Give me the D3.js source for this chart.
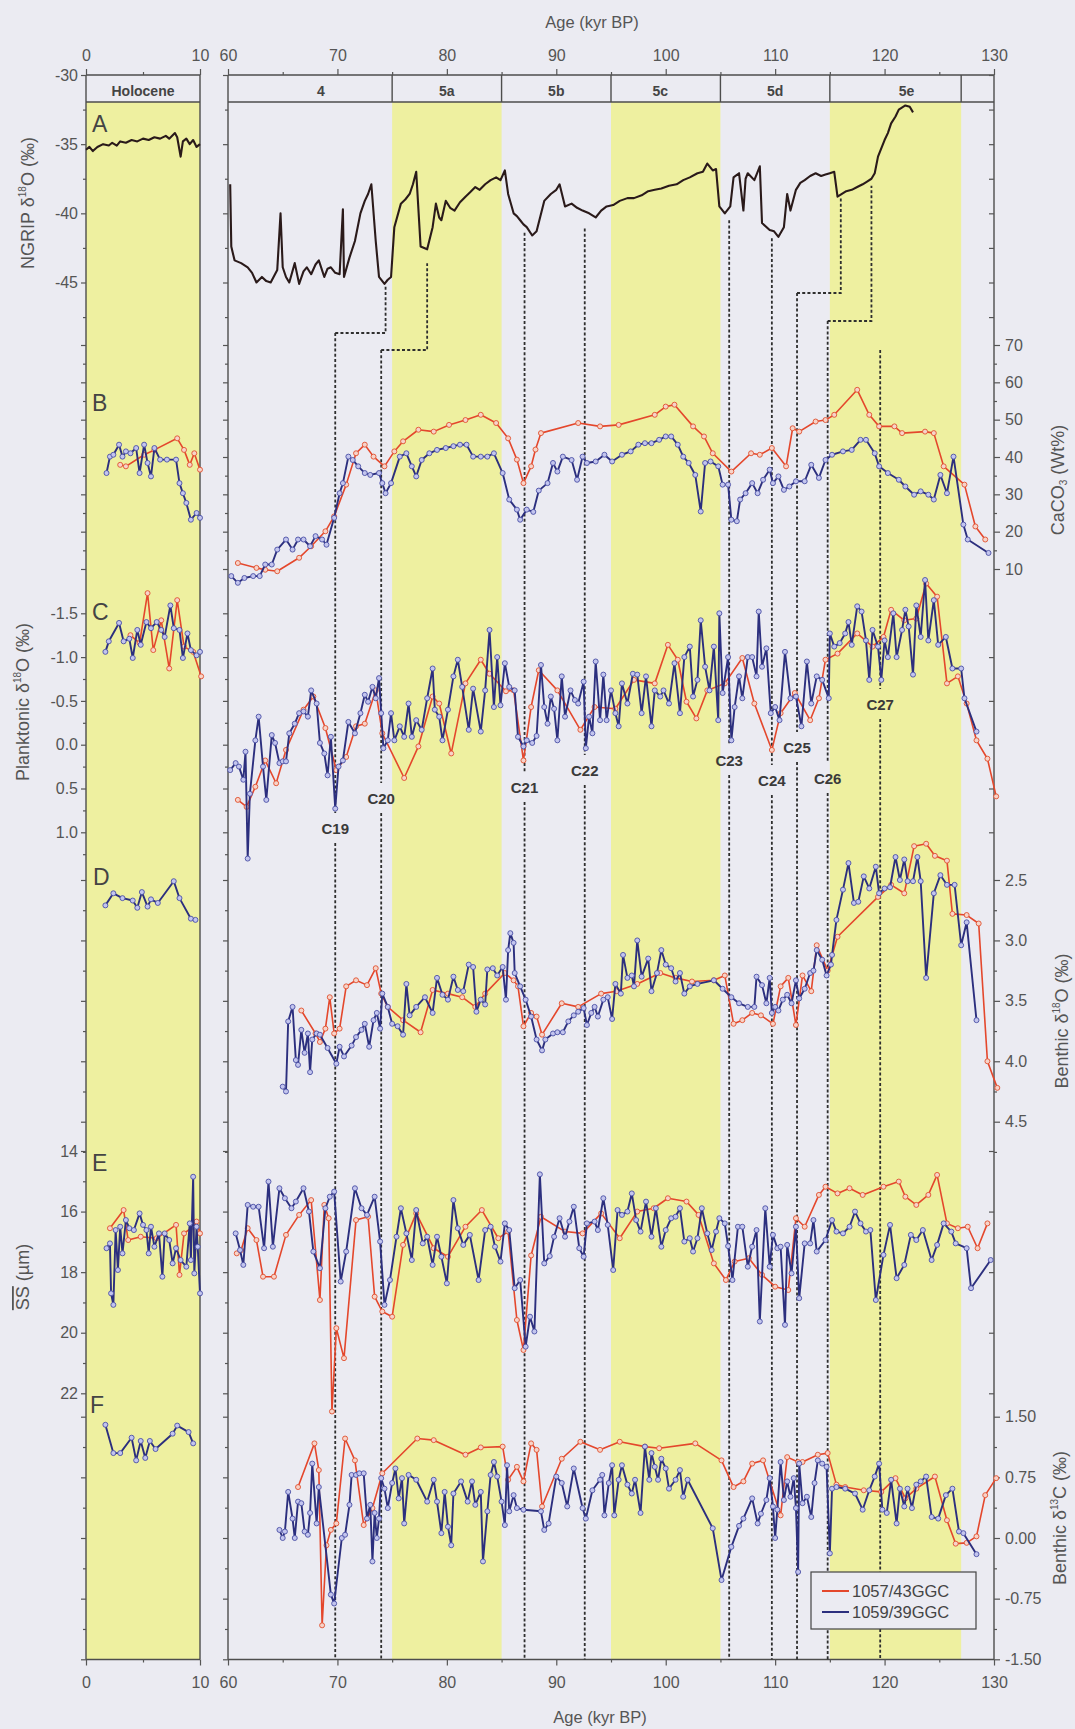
<!DOCTYPE html>
<html><head><meta charset="utf-8">
<script src="https://cdn.jsdelivr.net/npm/d3@7"></script>
<style>body{margin:0;background:#ececf3;} svg{display:block;font-family:"Liberation Sans",Arial,sans-serif;}</style>
</head><body><svg id="c" width="1075" height="1729"></svg>
<script>
// ---------------- DATA ----------------
const stageBounds = [60,75,85,95,105,115,127,130];
const stageLabels = ["4","5a","5b","5c","5d","5e",""];
const stageLabelAge = [68.5,80,90,99.5,110,122,128.5];
const yellowBands = [[75,85],[95,105],[115,127]];
const topTicks = [60,70,80,90,100,110,120,130];
const topMinor = [65,75,85,95,105,115,125];
const holTicks = [0,10];

const eventLabels = ["C19","C20","C21","C22","C23","C24","C25","C26","C27"];
const eventAge    = [69.8,74.0,87.1,92.6,105.8,109.7,112.0,114.8,119.6];
const ngripTieAge = [74.4,78.2,87.1,92.6,105.8,109.7,116.0,118.8,null];
const ngripTieVal = [-45.3,-43.6,-41.4,-41.1,-40.5,-41.8,-38.8,-38.0,null];

const ngripHol = [[0,-35.4],[0.3,-35.2],[0.6,-35.5],[1,-35.2],[1.5,-35.0],[2,-35.1],[2.3,-34.9],[2.7,-35.1],[3,-34.8],[3.5,-34.9],[4,-34.7],[4.5,-34.8],[5,-34.6],[5.5,-34.7],[6,-34.5],[6.5,-34.6],[7,-34.4],[7.3,-34.6],[7.8,-34.2],[8.0,-34.5],[8.3,-35.9],[8.5,-34.8],[8.8,-34.6],[9.1,-35.0],[9.4,-34.7],[9.7,-35.2],[10,-35.0]];
const ngripMain = [[60.2,-37.9],[60.3,-42.4],[60.6,-43.4],[61.2,-43.6],[61.8,-43.9],[62.2,-44.3],[62.6,-45.0],[63.1,-44.6],[63.5,-44.9],[63.9,-45.0],[64.5,-44.1],[64.8,-40.0],[65.0,-43.9],[65.3,-44.6],[65.6,-45.0],[66.1,-43.6],[66.5,-45.1],[66.9,-44.2],[67.2,-43.9],[67.6,-44.4],[68.0,-43.7],[68.3,-43.4],[68.8,-44.6],[69.1,-44.0],[69.4,-43.9],[69.8,-44.3],[70.2,-44.4],[70.5,-39.7],[70.6,-44.6],[71.1,-43.2],[71.6,-42.0],[72.1,-40.0],[72.5,-39.1],[72.8,-38.6],[73.1,-37.9],[73.5,-42.0],[73.8,-44.6],[74.3,-45.1],[74.6,-44.8],[74.9,-44.6],[75.2,-41.0],[75.8,-39.3],[76.2,-39.0],[76.6,-38.6],[76.9,-37.9],[77.2,-37.0],[77.6,-42.4],[78.2,-42.6],[78.7,-41.0],[79.0,-39.3],[79.3,-40.3],[79.5,-40.5],[79.9,-39.1],[80.3,-39.6],[80.7,-39.8],[81.2,-39.2],[81.7,-38.8],[82.1,-38.5],[82.6,-38.1],[83.0,-38.3],[83.5,-37.9],[84.0,-37.6],[84.5,-37.4],[84.9,-37.6],[85.3,-36.9],[85.6,-38.6],[86.1,-40.0],[86.4,-40.2],[86.7,-40.5],[87.0,-40.8],[87.3,-41.0],[87.8,-41.6],[88.2,-41.3],[88.9,-39.1],[89.5,-38.6],[90.0,-38.3],[90.3,-37.9],[90.8,-39.5],[91.4,-39.3],[91.9,-39.6],[92.4,-39.8],[93.0,-40.0],[93.6,-40.3],[94.1,-39.8],[94.6,-39.5],[95.2,-39.4],[95.8,-39.1],[96.5,-38.9],[97.1,-38.9],[97.8,-38.7],[98.4,-38.4],[99.0,-38.3],[99.6,-38.2],[100.3,-38.0],[101.0,-37.9],[101.6,-37.6],[102.2,-37.4],[102.9,-37.1],[103.4,-37.0],[103.8,-36.4],[104.3,-36.9],[104.6,-36.8],[104.9,-39.5],[105.4,-40.0],[105.9,-39.5],[106.2,-37.4],[106.7,-37.1],[107.1,-39.8],[107.3,-37.5],[107.5,-37.1],[108.1,-37.6],[108.6,-36.6],[108.8,-40.7],[109.5,-41.2],[109.9,-41.3],[110.3,-41.7],[110.8,-41.0],[111.1,-38.6],[111.4,-39.8],[111.9,-38.3],[112.3,-37.8],[112.7,-37.6],[113.2,-37.3],[113.7,-37.1],[114.2,-37.3],[114.6,-37.2],[115.0,-37.1],[115.4,-37.0],[115.7,-38.8],[116.1,-38.6],[116.5,-38.4],[117.0,-38.3],[117.5,-38.1],[118.0,-37.9],[118.4,-37.7],[118.8,-37.5],[119.1,-37.1],[119.4,-35.9],[120.0,-34.7],[120.3,-34.2],[120.6,-33.5],[121.0,-33.0],[121.3,-32.5],[121.9,-32.2],[122.3,-32.3],[122.6,-32.7]];

const caco3BlueHol = [[1.8,35.7],[2.1,40.1],[2.4,40.6],[2.9,43.3],[3.2,40.1],[3.5,41.5],[3.9,41.0],[4.4,42.4],[4.7,35.7],[5.1,43.3],[5.4,38.4],[5.7,34.8],[6.0,42.4],[6.5,39.3],[7.1,39.3],[7.9,39.3],[8.2,33.0],[8.5,30.3],[8.8,27.7],[9.2,23.2],[9.7,25.0],[10.0,23.7]];
const caco3RedHol = [[3.0,37.9],[3.5,37.5],[5.1,40.6],[6.0,41.9],[8.0,45.0],[8.6,41.9],[9.1,37.9],[9.5,41.0],[10.0,36.6]];
const caco3Red = [[60.9,11.6],[62.6,10.3],[63.4,9.8],[64.5,9.4],[66.5,13.0],[67.6,16.1],[68.9,20.1],[69.7,24.1],[70.8,32.6],[71.7,41.0],[72.5,43.3],[73.3,40.1],[74.3,37.5],[75.2,41.5],[76.0,44.2],[77.4,47.3],[78.8,46.8],[80.2,48.6],[81.7,49.9],[83.1,51.3],[84.5,49.1],[85.6,45.0],[86.4,39.3],[87.0,33.0],[87.7,37.5],[88.1,42.0],[88.6,46.4],[92.0,49.1],[94.0,48.2],[95.7,48.6],[99.0,51.3],[100.0,53.5],[100.8,54.0],[102.5,48.2],[103.5,45.5],[104.3,41.0],[106.0,36.1],[107.8,41.0],[108.6,40.6],[109.7,42.4],[111.0,37.5],[111.6,47.7],[112.2,46.8],[113.7,49.5],[114.6,49.9],[115.4,51.3],[117.5,58.0],[118.6,51.3],[119.5,48.2],[120.9,48.2],[121.6,46.4],[123.7,46.8],[124.5,46.4],[125.4,37.5],[127.3,32.6],[128.3,21.4],[129.2,17.9]];
const caco3Blue = [[60.3,8.1],[60.9,6.3],[61.5,7.6],[62.3,8.1],[62.9,8.1],[63.4,11.2],[64.0,11.2],[64.5,15.2],[65.3,17.9],[65.9,15.2],[66.4,17.9],[66.9,17.9],[67.5,16.1],[68.0,18.8],[68.6,17.9],[69.0,16.5],[69.7,23.7],[70.2,30.3],[70.5,33.0],[71.0,40.1],[71.4,39.2],[71.9,37.5],[72.5,35.7],[73.0,35.2],[73.8,35.7],[74.1,33.0],[74.4,30.3],[74.9,33.0],[75.7,40.1],[76.3,41.0],[76.8,37.5],[77.2,34.8],[77.7,39.2],[78.4,41.0],[79.1,41.9],[79.9,42.4],[80.6,42.9],[81.2,43.3],[81.8,43.3],[82.4,40.1],[83.1,40.1],[83.7,40.1],[84.3,41.0],[85.1,35.7],[85.7,28.6],[86.4,25.9],[86.7,23.2],[87.3,25.9],[87.9,25.3],[88.4,31.0],[89.2,33.0],[89.7,38.4],[90.1,36.1],[90.6,40.1],[91.4,39.2],[91.9,33.9],[92.4,40.1],[92.8,38.4],[93.6,38.8],[94.4,40.6],[95.1,38.8],[96.0,40.6],[96.8,41.5],[97.5,43.3],[98.1,43.7],[98.7,43.7],[99.4,44.6],[100.0,45.5],[100.5,45.5],[101.1,43.3],[101.6,40.1],[102.1,38.4],[102.7,35.2],[103.2,25.4],[103.6,38.4],[104.1,38.8],[104.8,37.5],[105.2,32.6],[105.7,32.6],[106.0,23.2],[106.5,22.8],[106.8,28.6],[107.3,30.3],[107.9,33.0],[108.4,30.3],[108.9,33.9],[109.5,36.6],[109.8,33.0],[110.3,34.8],[110.8,31.2],[111.3,32.1],[111.9,33.5],[112.7,33.5],[113.3,37.9],[114.0,34.4],[114.6,39.2],[115.2,40.6],[116.2,41.5],[117.0,41.9],[117.8,44.6],[118.3,44.6],[119.1,41.0],[119.5,37.5],[120.3,35.7],[121.3,33.9],[121.9,32.1],[122.7,29.9],[123.3,30.8],[124.0,29.9],[124.5,28.6],[125.1,35.2],[125.7,30.3],[126.3,40.1],[127.2,21.9],[127.6,17.9],[129.5,14.3]];

const plankBlueHol = [[1.7,-1.06],[2.0,-1.18],[2.9,-1.39],[3.3,-1.18],[3.8,-1.21],[4.1,-0.99],[4.5,-1.31],[4.8,-1.14],[5.3,-1.40],[5.7,-1.33],[6.2,-1.40],[6.6,-1.31],[6.9,-1.23],[7.4,-1.59],[7.7,-1.33],[8.2,-1.31],[8.5,-0.99],[8.9,-1.27],[9.2,-1.08],[9.7,-1.02],[10.0,-1.06]];
const plankRedHol = [[3.9,-1.25],[4.7,-1.16],[5.4,-1.73],[5.9,-1.08],[6.6,-1.42],[7.3,-0.87],[8.0,-1.65],[8.6,-1.12],[9.4,-1.06],[10.1,-0.78]];
const plankBlue = [[60.2,0.29],[60.7,0.21],[61.0,0.25],[61.4,0.40],[61.6,0.08],[61.8,1.30],[62.0,0.56],[62.5,-0.05],[62.8,-0.32],[63.2,0.25],[63.5,0.63],[64.0,-0.11],[64.3,-0.02],[64.7,0.21],[65.0,0.19],[65.3,0.19],[65.6,-0.13],[66.1,-0.24],[66.5,-0.36],[66.9,-0.38],[67.3,-0.32],[67.6,-0.62],[68.1,-0.47],[68.4,-0.02],[68.8,0.10],[69.1,0.35],[69.4,-0.09],[69.8,0.73],[70.1,0.25],[70.5,0.18],[71.0,-0.26],[71.6,-0.13],[72.1,-0.36],[72.5,-0.57],[72.8,-0.49],[73.2,-0.66],[73.5,-0.53],[73.8,-0.76],[74.0,-0.36],[74.2,0.04],[74.6,-0.05],[74.9,-0.36],[75.2,-0.05],[75.7,-0.21],[76.1,-0.09],[76.5,-0.47],[76.8,-0.09],[77.2,-0.28],[77.7,-0.17],[78.2,-0.53],[78.7,-0.87],[78.9,-0.40],[79.3,-0.32],[79.6,-0.05],[80.1,-0.40],[80.6,-0.78],[81.0,-0.97],[81.4,-0.66],[82.0,-0.17],[82.4,-0.64],[83.1,-0.15],[83.5,-0.62],[83.9,-1.31],[84.3,-0.43],[84.6,-1.00],[84.9,-0.45],[85.3,-0.93],[85.7,-0.66],[86.2,-0.62],[86.5,-0.09],[87.0,0.02],[87.3,-0.05],[87.8,-0.02],[88.2,-0.10],[88.6,-0.91],[88.9,-0.43],[89.2,-0.24],[89.5,-0.55],[89.8,-0.41],[90.1,-0.05],[90.5,-0.78],[90.8,-0.32],[91.3,-0.62],[91.7,-0.51],[92.0,-0.47],[92.5,-0.72],[92.7,0.04],[93.0,-0.32],[93.3,-0.13],[93.6,-0.95],[94.0,-0.28],[94.3,-0.80],[94.6,-0.28],[95.0,-0.62],[95.4,-0.36],[95.7,-0.21],[96.0,-0.70],[96.5,-0.47],[97.0,-0.81],[97.4,-0.80],[97.8,-0.36],[98.2,-0.78],[98.7,-0.21],[99.0,-0.62],[99.5,-0.55],[99.8,-0.62],[100.3,-0.47],[100.8,-0.93],[101.3,-0.36],[101.7,-1.00],[102.2,-1.12],[102.5,-0.55],[102.9,-0.74],[103.2,-1.42],[103.6,-0.89],[104.0,-0.62],[104.4,-1.12],[104.8,-0.28],[104.9,-1.50],[105.2,-0.59],[105.7,-1.00],[106.0,-0.05],[106.3,-0.43],[106.7,-0.78],[107.0,-0.53],[107.5,-1.00],[107.9,-1.00],[108.3,-0.78],[108.5,-1.52],[108.8,-0.89],[109.2,-1.10],[109.6,-0.36],[110.0,-0.43],[110.4,-0.28],[110.9,-1.06],[111.4,-0.53],[111.9,-0.55],[112.4,-0.21],[112.9,-0.95],[113.3,-0.47],[113.8,-0.78],[114.3,-0.74],[114.9,-0.53],[115.0,-1.27],[115.4,-1.12],[115.9,-1.16],[116.4,-1.27],[116.7,-1.40],[117.0,-1.14],[117.5,-1.58],[117.9,-1.52],[118.3,-1.19],[118.6,-0.74],[118.9,-1.31],[119.4,-1.12],[119.7,-0.74],[120.0,-1.19],[120.3,-1.00],[120.8,-1.50],[121.1,-1.00],[121.6,-1.31],[121.9,-1.54],[122.2,-1.35],[122.6,-0.80],[122.9,-1.59],[123.3,-1.23],[123.7,-1.88],[124.0,-1.19],[124.5,-1.65],[124.9,-1.14],[125.6,-1.23],[126.2,-0.87],[127.0,-0.87],[127.3,-0.53],[128.4,-0.15]];
const plankRed = [[60.9,0.63],[61.7,0.71],[62.5,0.48],[63.4,0.18],[64.4,0.44],[65.3,0.06],[66.9,-0.40],[67.8,-0.55],[68.9,-0.19],[69.9,0.29],[70.8,0.14],[71.7,-0.21],[72.5,-0.24],[73.5,-0.62],[74.1,-0.13],[76.1,0.38],[77.4,0.02],[78.7,-0.55],[79.3,-0.47],[80.4,0.10],[81.7,-0.70],[83.1,-0.97],[83.9,-0.81],[85.4,-0.61],[86.1,-0.62],[87.0,0.18],[87.7,-0.43],[88.4,-0.85],[90.1,-0.62],[92.2,-0.17],[93.5,-0.43],[95.4,-0.41],[97.1,-0.74],[99.0,-0.70],[100.2,-1.14],[101.1,-0.97],[101.9,-0.49],[102.8,-0.30],[103.8,-0.62],[105.4,-0.70],[107.0,-0.99],[108.1,-0.47],[109.7,0.06],[110.5,-0.36],[111.8,-0.59],[113.2,-0.28],[114.0,-0.53],[114.6,-0.97],[115.7,-1.04],[117.5,-1.27],[118.9,-1.12],[119.9,-1.23],[120.6,-1.54],[121.8,-1.42],[122.9,-1.44],[123.8,-1.84],[124.8,-1.69],[125.7,-0.70],[126.7,-0.78],[127.5,-0.47],[128.4,-0.05],[129.4,0.16],[130.2,0.59]];

const benthOBlueHol = [[1.7,2.71],[2.4,2.61],[3.2,2.65],[4.1,2.67],[4.5,2.73],[4.9,2.60],[5.4,2.72],[5.7,2.66],[6.3,2.69],[7.7,2.51],[8.2,2.65],[9.2,2.82],[9.6,2.83]];
const benthOBlue = [[65.0,4.21],[65.3,4.25],[65.5,3.67],[65.9,3.55],[66.2,3.99],[66.4,4.03],[66.7,3.74],[67.0,3.93],[67.3,3.77],[67.5,4.09],[67.7,3.82],[68.1,3.77],[68.4,3.78],[69.1,3.89],[69.9,4.02],[70.2,3.88],[70.6,3.96],[71.3,3.87],[71.7,3.80],[72.2,3.74],[72.5,3.69],[72.9,3.88],[73.3,3.66],[73.6,3.60],[73.9,3.73],[74.1,3.44],[74.6,3.55],[75.0,3.69],[75.5,3.71],[76.0,3.78],[76.3,3.36],[76.6,3.62],[77.2,3.55],[78.0,3.47],[78.7,3.60],[79.1,3.31],[79.6,3.45],[80.1,3.49],[80.6,3.30],[81.0,3.41],[81.5,3.42],[82.0,3.20],[82.4,3.22],[82.7,3.59],[83.1,3.49],[83.5,3.53],[83.7,3.24],[84.2,3.23],[84.6,3.29],[85.1,3.22],[85.4,3.49],[85.6,3.08],[85.8,2.94],[86.1,3.02],[86.2,3.27],[86.7,3.38],[87.2,3.49],[87.7,3.63],[88.2,3.82],[88.7,3.91],[89.0,3.82],[89.7,3.77],[90.1,3.76],[90.6,3.76],[91.1,3.67],[91.6,3.62],[92.0,3.59],[92.5,3.56],[92.8,3.70],[93.2,3.60],[93.5,3.55],[93.8,3.63],[94.3,3.49],[94.7,3.47],[95.1,3.65],[95.4,3.36],[95.9,3.44],[96.1,3.12],[96.5,3.31],[96.9,3.29],[97.1,3.38],[97.4,3.00],[97.8,3.30],[98.4,3.15],[98.7,3.42],[99.2,3.27],[99.6,3.08],[100.0,3.20],[100.5,3.23],[100.9,3.34],[101.3,3.27],[101.7,3.44],[102.2,3.38],[102.9,3.36],[104.4,3.33],[105.2,3.40],[106.0,3.47],[106.7,3.52],[107.5,3.55],[108.1,3.55],[108.3,3.30],[108.8,3.37],[109.2,3.52],[109.5,3.31],[109.7,3.60],[110.0,3.55],[110.3,3.58],[110.7,3.49],[111.1,3.45],[111.5,3.52],[111.9,3.33],[112.2,3.48],[112.7,3.40],[113.2,3.27],[113.5,3.25],[113.8,3.08],[114.3,3.16],[114.7,3.29],[115.1,3.20],[115.2,3.12],[115.6,2.83],[116.2,2.58],[116.7,2.36],[117.2,2.69],[117.6,2.68],[118.1,2.47],[118.6,2.57],[119.2,2.39],[119.5,2.61],[120.0,2.57],[120.5,2.56],[121.0,2.31],[121.4,2.50],[121.8,2.33],[122.1,2.51],[122.6,2.51],[123.0,2.31],[123.3,2.51],[123.8,3.31],[124.5,2.61],[125.1,2.46],[125.7,2.54],[126.4,2.54],[127.0,3.04],[127.5,2.85],[128.4,3.66]];
const benthORed = [[66.7,3.58],[68.0,3.77],[68.4,3.84],[68.9,3.73],[69.3,3.47],[69.7,3.77],[70.2,3.73],[70.8,3.38],[71.7,3.33],[72.7,3.37],[73.5,3.23],[74.0,3.44],[74.6,3.55],[76.0,3.66],[77.6,3.76],[78.7,3.41],[80.1,3.44],[81.4,3.47],[82.6,3.55],[83.5,3.44],[85.3,3.27],[86.1,3.33],[86.5,3.38],[87.0,3.71],[87.7,3.60],[88.2,3.63],[88.7,3.78],[90.5,3.52],[92.0,3.55],[94.1,3.44],[95.5,3.42],[97.4,3.36],[99.5,3.27],[100.9,3.31],[102.4,3.34],[104.4,3.33],[105.4,3.29],[106.2,3.69],[107.0,3.66],[107.9,3.60],[108.7,3.62],[109.8,3.69],[110.5,3.38],[111.2,3.31],[111.9,3.70],[112.5,3.29],[113.3,3.42],[113.8,3.04],[114.8,3.25],[115.7,2.97],[119.4,2.64],[120.6,2.54],[121.8,2.61],[122.7,2.22],[123.8,2.20],[124.6,2.30],[125.7,2.34],[126.2,2.78],[127.5,2.79],[128.6,2.86],[129.4,4.00],[130.3,4.22]];

const ssBlueHol = [[1.8,17.21],[2.1,17.05],[2.2,18.70],[2.4,19.08],[2.6,16.61],[2.8,17.93],[3.0,16.50],[3.2,17.38],[3.5,16.28],[3.8,16.55],[4.2,16.61],[4.7,16.06],[5.0,16.44],[5.3,16.61],[5.5,17.38],[5.7,16.50],[6.0,17.16],[6.4,16.72],[6.7,18.15],[6.9,16.72],[7.3,16.94],[7.6,17.71],[7.9,17.21],[8.3,17.60],[8.8,17.82],[9.1,16.39],[9.2,17.60],[9.4,14.85],[9.5,18.04],[9.7,16.50],[9.8,17.16],[10.0,18.70]];
const ssRedHol = [[2.1,16.55],[3.3,15.95],[3.7,16.94],[4.8,16.83],[6.2,16.88],[7.9,16.44],[8.2,18.09],[8.6,16.72],[9.4,16.50],[9.7,16.33],[10.0,16.72]];
const ssBlue = [[60.7,16.72],[61.1,17.27],[61.4,17.76],[61.8,15.78],[62.3,15.84],[62.8,15.84],[63.3,17.21],[63.7,15.01],[64.1,17.16],[64.7,15.23],[65.2,15.56],[65.8,15.89],[66.2,15.67],[66.9,15.23],[67.4,16.00],[67.8,17.32],[68.4,17.87],[68.9,15.89],[69.3,15.51],[69.7,15.34],[70.3,18.31],[70.8,17.32],[71.6,15.23],[72.2,15.89],[72.7,16.11],[73.4,15.51],[73.9,16.99],[74.3,19.08],[74.8,18.26],[75.4,16.83],[75.8,15.89],[76.3,16.72],[76.8,17.60],[77.2,15.95],[77.8,17.05],[78.2,16.83],[78.7,17.76],[79.1,16.83],[79.5,17.49],[80.0,18.37],[80.6,15.62],[81.0,16.55],[81.5,17.10],[82.1,16.77],[82.9,18.26],[83.5,16.61],[84.0,16.50],[84.4,17.16],[84.9,17.65],[85.3,16.39],[85.7,16.61],[86.2,18.53],[86.7,18.26],[87.2,20.46],[87.6,19.47],[88.0,19.96],[88.5,14.77],[88.9,17.71],[89.4,17.47],[89.8,16.83],[90.3,16.22],[90.8,16.83],[91.2,16.33],[91.6,15.84],[92.1,17.21],[92.5,17.49],[92.8,16.39],[93.5,16.33],[93.8,16.61],[94.3,15.56],[94.7,16.44],[95.2,17.93],[95.6,15.95],[96.0,16.11],[96.5,16.00],[96.9,15.40],[97.3,16.28],[97.7,16.66],[98.2,15.67],[98.7,16.83],[99.1,15.89],[99.6,17.16],[100.0,16.61],[100.5,16.22],[100.9,16.17],[101.3,15.89],[101.7,16.99],[102.2,16.88],[102.5,17.32],[102.9,16.88],[103.3,15.89],[103.8,16.72],[104.2,17.27],[104.6,16.66],[104.9,16.22],[105.4,16.39],[105.7,17.14],[106.1,18.26],[106.6,16.50],[107.0,16.50],[107.5,17.82],[107.9,17.16],[108.3,16.61],[108.6,19.63],[109.1,15.89],[109.5,17.82],[109.8,16.77],[110.2,17.21],[110.5,17.16],[110.9,19.74],[111.1,17.10],[111.5,18.04],[111.9,16.50],[112.2,18.86],[112.7,17.05],[113.2,17.05],[113.5,16.28],[113.8,17.32],[114.6,16.94],[115.2,16.28],[115.6,16.66],[116.2,16.72],[116.8,16.50],[117.3,16.00],[117.8,16.39],[118.3,16.66],[118.7,16.61],[119.2,18.92],[119.9,17.43],[120.5,16.44],[121.1,18.20],[121.8,17.76],[122.4,16.77],[122.9,16.94],[123.5,16.61],[124.3,17.60],[124.8,17.10],[125.4,16.39],[126.1,16.66],[126.5,17.05],[127.5,17.21],[127.9,18.53],[129.7,17.60]];
const ssRed = [[60.8,17.38],[61.2,17.27],[61.8,16.55],[62.6,16.94],[63.2,18.15],[64.2,18.15],[65.3,16.77],[66.5,16.11],[67.6,15.62],[68.4,18.92],[68.8,15.78],[69.2,16.22],[69.5,22.60],[69.9,19.85],[70.6,20.84],[71.7,16.28],[72.8,16.17],[73.4,18.81],[74.1,19.30],[75.0,19.47],[76.0,17.10],[77.2,16.06],[78.8,17.21],[80.1,17.49],[81.7,16.50],[83.2,15.95],[84.7,16.88],[85.6,16.66],[86.4,19.58],[87.0,20.57],[87.7,17.45],[88.6,16.17],[90.8,16.66],[92.4,16.72],[94.1,16.06],[95.8,16.88],[97.4,16.00],[98.9,15.89],[100.2,15.56],[101.9,15.67],[103.0,16.11],[104.4,17.71],[105.5,18.26],[106.3,17.65],[107.6,17.54],[108.8,18.09],[110.0,18.48],[111.2,18.59],[111.9,16.22],[112.7,16.50],[114.0,15.45],[114.6,15.18],[115.7,15.40],[116.8,15.23],[118.0,15.45],[119.9,15.18],[121.3,15.01],[121.9,15.51],[122.9,15.78],[124.0,15.45],[124.8,14.79],[125.7,16.39],[126.7,16.55],[127.6,16.50],[128.5,17.21],[129.4,16.39]];

const benthCBlueHol = [[1.7,1.40],[2.4,1.05],[3.0,1.05],[4.0,1.24],[4.4,0.96],[4.8,1.20],[5.2,0.99],[5.6,1.20],[6.1,1.10],[7.6,1.29],[8.0,1.39],[9.0,1.31],[9.4,1.17]];
const benthCBlue = [[64.7,0.10],[65.0,0.00],[65.2,0.08],[65.5,0.57],[65.9,0.24],[66.1,0.00],[66.4,0.45],[66.7,0.43],[67.0,0.08],[67.3,0.04],[67.5,0.31],[67.7,0.92],[68.1,0.18],[68.3,0.63],[69.4,-0.70],[69.7,-0.81],[70.4,0.00],[70.7,0.04],[71.1,0.41],[71.3,0.78],[71.7,0.78],[72.0,0.80],[72.4,0.80],[72.7,0.24],[73.0,0.41],[73.2,-0.29],[73.4,0.31],[73.6,0.00],[73.8,0.24],[74.0,0.74],[74.3,0.61],[74.6,0.37],[75.0,0.68],[75.3,0.86],[75.6,0.49],[75.9,0.74],[76.1,0.18],[76.5,0.78],[77.2,0.72],[78.2,0.45],[78.8,0.72],[79.1,0.45],[79.5,0.06],[79.8,0.57],[80.1,0.14],[80.4,-0.09],[80.6,0.55],[81.3,0.70],[81.9,0.45],[82.3,0.70],[82.6,0.41],[83.1,0.57],[83.3,-0.29],[83.7,0.33],[84.0,0.78],[84.3,0.94],[84.6,0.76],[85.0,0.45],[85.3,0.16],[85.5,0.90],[85.7,0.33],[86.1,0.53],[86.4,0.37],[87.0,0.35],[88.6,0.33],[88.9,0.10],[89.3,0.18],[90.0,0.76],[90.5,0.68],[91.0,0.39],[91.6,0.86],[92.4,0.37],[92.7,0.24],[93.3,0.59],[94.0,0.72],[94.2,0.78],[94.4,0.28],[94.8,0.68],[95.1,0.90],[95.3,0.28],[95.7,0.72],[96.0,0.90],[96.5,0.66],[96.9,0.55],[97.2,0.72],[97.7,0.31],[98.1,1.13],[98.5,0.72],[98.7,1.05],[99.0,0.88],[99.3,0.72],[99.6,0.98],[100.0,0.86],[100.3,0.61],[100.9,0.72],[101.3,0.84],[101.6,0.51],[102.0,0.72],[104.3,0.12],[105.1,-0.52],[106.0,-0.11],[106.7,0.15],[107.1,0.24],[107.9,0.49],[108.4,0.18],[108.7,0.30],[109.2,0.47],[109.5,0.74],[109.8,0.39],[110.0,0.00],[110.2,0.35],[110.5,0.94],[110.8,0.47],[111.1,0.70],[111.4,0.51],[111.7,0.74],[111.9,0.37],[112.1,-0.42],[112.2,0.92],[112.5,0.43],[112.9,0.51],[113.3,0.26],[113.6,0.68],[113.9,0.96],[114.3,0.92],[114.7,0.88],[115.0,-0.19],[115.2,0.61],[115.6,0.63],[116.4,0.61],[117.3,0.55],[118.0,0.35],[118.6,0.59],[119.1,0.76],[119.5,0.92],[119.8,0.35],[120.2,0.31],[120.6,0.72],[121.1,0.18],[121.4,0.61],[121.8,0.39],[122.1,0.61],[122.5,0.37],[122.9,0.66],[123.3,0.70],[123.8,0.76],[124.3,0.26],[124.9,0.24],[125.6,0.53],[126.2,0.61],[126.8,0.08],[127.2,0.06],[128.4,-0.20]];
const benthCRed = [[66.4,0.63],[67.9,1.17],[68.3,0.84],[68.6,-1.08],[69.0,-0.09],[69.4,0.10],[69.9,0.18],[70.7,1.23],[71.6,0.96],[72.4,0.16],[73.2,0.37],[74.1,0.80],[77.3,1.23],[78.8,1.21],[81.7,1.03],[83.1,1.12],[85.1,1.13],[85.6,0.72],[86.4,0.88],[87.0,0.70],[87.7,1.17],[88.2,1.09],[88.7,0.39],[90.5,0.98],[92.2,1.19],[94.0,1.09],[95.8,1.19],[98.1,1.13],[99.4,1.11],[102.7,1.17],[105.1,0.96],[106.2,0.63],[107.1,0.70],[107.9,0.92],[108.9,0.96],[110.5,0.28],[111.1,1.00],[112.1,0.94],[112.5,0.94],[113.9,1.03],[114.8,1.05],[115.6,0.66],[116.4,0.63],[118.1,0.59],[119.7,0.57],[121.0,0.74],[121.9,0.49],[122.9,0.61],[124.6,0.76],[125.7,0.22],[126.5,-0.07],[127.5,-0.06],[128.4,0.02],[129.2,0.53],[130.2,0.74]];

const legendNames = ["1057/43GGC","1059/39GGC"];

// ---------------- LAYOUT ----------------
const svg = d3.select("#c");
const TOP = 75, BAND = 102, BOT = 1659.5;
const BG = "#ebebf2", YEL = "#eef0a0", INK = "#4a4a4a", RED = "#e4472c", BLUE = "#2c2f7e";
const X  = d3.scaleLinear().domain([60,130]).range([228,994]);
const XH = d3.scaleLinear().domain([0,10]).range([86,200]);
const yA = d3.scaleLinear().domain([-30,-45]).range([75,282.5]);
const yB = d3.scaleLinear().domain([70,10]).range([345,569]);
const yC = d3.scaleLinear().domain([-1.5,1.0]).range([613.3,832.3]);
const yD = d3.scaleLinear().domain([2.5,4.5]).range([880,1121.7]);
const yE = d3.scaleLinear().domain([14,22]).range([1151,1393.3]);
const yF = d3.scaleLinear().domain([1.5,-1.5]).range([1416.7,1659.3]);

svg.append("rect").attr("width",1075).attr("height",1729).attr("fill",BG);

// yellow
svg.append("rect").attr("x",XH(0)).attr("y",BAND).attr("width",XH(10)-XH(0)).attr("height",BOT-BAND).attr("fill",YEL);
svg.selectAll(null).data(yellowBands).join("rect")
  .attr("x",d=>X(d[0])).attr("y",BAND).attr("width",d=>X(d[1])-X(d[0])).attr("height",BOT-BAND).attr("fill",YEL);

// stage header and frames
const fr = svg.append("g").attr("stroke","#4d4d4d").attr("stroke-width",1.4).attr("fill","none");
[[XH(0),XH(10)],[X(60),X(130)]].forEach(([a,b])=>{
  fr.append("line").attr("x1",a).attr("x2",b).attr("y1",TOP).attr("y2",TOP);
  fr.append("line").attr("x1",a).attr("x2",b).attr("y1",BAND).attr("y2",BAND);
  fr.append("line").attr("x1",a).attr("x2",b).attr("y1",BOT).attr("y2",BOT);
  fr.append("line").attr("x1",a).attr("x2",a).attr("y1",TOP).attr("y2",BOT);
  fr.append("line").attr("x1",b).attr("x2",b).attr("y1",TOP).attr("y2",BOT);
});
stageBounds.slice(1,-1).forEach(s=>fr.append("line").attr("x1",X(s)).attr("x2",X(s)).attr("y1",TOP).attr("y2",BAND));
const stg = svg.append("g").attr("font-size",14).attr("font-weight","bold").attr("fill","#444").attr("text-anchor","middle");
stg.append("text").attr("x",(XH(0)+XH(10))/2).attr("y",96).text("Holocene");
stageLabels.forEach((l,i)=>stg.append("text").attr("x",X(stageLabelAge[i])).attr("y",96).text(l));

function styleAxis(g){
  g.selectAll(".domain").remove();
  g.selectAll("line").attr("stroke","#555").attr("stroke-width",1.2);
  g.selectAll("text").attr("font-size",16).attr("fill","#555").attr("font-family","Liberation Sans, Arial, sans-serif");
}
function hAxes(scale, majors, minors){
  let g = svg.append("g").attr("transform",`translate(0,${TOP})`);
  g.call(d3.axisTop(scale).tickValues(majors).tickSize(6).tickPadding(8).tickFormat(d=>d));
  g.append("g").call(d3.axisTop(scale).tickValues(minors).tickSize(3).tickFormat(()=>""));
  styleAxis(g);
  g = svg.append("g").attr("transform",`translate(0,${BOT})`);
  g.call(d3.axisBottom(scale).tickValues(majors).tickSize(6).tickPadding(11).tickFormat(d=>d));
  g.append("g").call(d3.axisBottom(scale).tickValues(minors).tickSize(3).tickFormat(()=>""));
  styleAxis(g);
}
hAxes(X, topTicks, topMinor);
hAxes(XH, holTicks, [5]);

const panels = [
 {y:yA, maj:[-30,-35,-40,-45], min:[-32.5,-37.5,-42.5,-47.5], fmt:d=>String(d), side:"L"},
 {y:yB, maj:[70,60,50,40,30,20,10], min:[65,55,45,35,25,15], fmt:d=>String(d), side:"R"},
 {y:yC, maj:[-1.5,-1,-0.5,0,0.5,1], min:[-1.25,-0.75,-0.25,0.25,0.75,1.25], fmt:d=>d.toFixed(1), side:"L"},
 {y:yD, maj:[2.5,3,3.5,4,4.5], min:[2.75,3.25,3.75,4.25,4.75], fmt:d=>d.toFixed(1), side:"R"},
 {y:yE, maj:[14,16,18,20,22], min:[15,17,19,21], fmt:d=>String(d), side:"L"},
 {y:yF, maj:[1.5,0.75,0,-0.75,-1.5], min:[1.125,0.375,-0.375,-1.125], fmt:d=>d.toFixed(2), side:"R"}
];
panels.forEach(p=>{
  let g = svg.append("g").attr("transform",`translate(${XH(0)},0)`);
  g.call(d3.axisLeft(p.y).tickValues(p.maj).tickSize(5).tickPadding(3).tickFormat(p.side==="L"?p.fmt:()=>""));
  g.append("g").call(d3.axisLeft(p.y).tickValues(p.min).tickSize(3).tickFormat(()=>""));
  styleAxis(g);
  g = svg.append("g").attr("transform",`translate(${X(60)},0)`);
  g.call(d3.axisLeft(p.y).tickValues(p.maj).tickSize(5).tickFormat(()=>""));
  g.append("g").call(d3.axisLeft(p.y).tickValues(p.min).tickSize(3).tickFormat(()=>""));
  styleAxis(g);
  g = svg.append("g").attr("transform",`translate(${X(130)},0)`);
  if (p.side==="R"){
    g.call(d3.axisRight(p.y).tickValues(p.maj).tickSize(6).tickPadding(5).tickFormat(p.fmt));
    g.append("g").call(d3.axisRight(p.y).tickValues(p.min).tickSize(3).tickFormat(()=>""));
  } else {
    g.call(d3.axisRight(p.y).tickValues(p.maj.concat(p.y===yA?p.min:[])).tickSize(-5).tickFormat(()=>""));
  }
  styleAxis(g);
});

// event dashed lines
const stepY = [333,350,null,null,null,null,293,321,350];
const labelY = [828,798,787,770,760,780,747,778,704];
const dash = svg.append("g").attr("stroke","#2e2e2e").attr("stroke-width",1.8).attr("stroke-dasharray","3,2.2").attr("fill","none");
const evl = svg.append("g").attr("font-size",15).attr("font-weight","bold").attr("fill","#3a3a3a").attr("text-anchor","middle");
eventAge.forEach((a,i)=>{
  const x = X(a), gap = 15;
  let top;
  if (ngripTieAge[i]===null){ top = stepY[i]; }
  else if (ngripTieAge[i]===a){ top = yA(ngripTieVal[i]); }
  else {
    top = stepY[i];
    dash.append("path").attr("d",`M${x},${top}H${X(ngripTieAge[i])}V${yA(ngripTieVal[i])}`);
  }
  dash.append("line").attr("x1",x).attr("x2",x).attr("y1",top).attr("y2",labelY[i]-gap);
  dash.append("line").attr("x1",x).attr("x2",x).attr("y1",labelY[i]+gap).attr("y2",BOT);
  evl.append("text").attr("x",x).attr("y",labelY[i]+5.5).text(eventLabels[i]);
});

function series(data, xs, ys, color, fill, markers, width){
  const g = svg.append("g");
  g.append("path").datum(data).attr("fill","none").attr("stroke",color).attr("stroke-width",width)
    .attr("stroke-linejoin","round").attr("d",d3.line().x(d=>xs(d[0])).y(d=>ys(d[1])));
  if (markers) g.selectAll("circle").data(data).join("circle").attr("cx",d=>xs(d[0])).attr("cy",d=>ys(d[1]))
    .attr("r",2.5).attr("fill",fill).attr("stroke",markers).attr("stroke-width",0.9);
}
const RF = "#f7d3c9", BF = "#c3c5ee", RS = "#e0502f", BS = "#4a4fa5";
series(ngripHol, XH, yA, "#2a1a1a", null, null, 2.1);
series(ngripMain, X, yA, "#2a1a1a", null, null, 2.1);
[[caco3RedHol,caco3BlueHol,caco3Red,caco3Blue,yB],
 [plankRedHol,plankBlueHol,plankRed,plankBlue,yC],
 [[],benthOBlueHol,benthORed,benthOBlue,yD],
 [ssRedHol,ssBlueHol,ssRed,ssBlue,yE],
 [[],benthCBlueHol,benthCRed,benthCBlue,yF]].forEach(([rh,bh,r,b,ys])=>{
   if (rh.length) series(rh, XH, ys, RED, RF, RS, 1.6);
   series(r, X, ys, RED, RF, RS, 1.6);
   series(bh, XH, ys, BLUE, BF, BS, 1.9);
   series(b, X, ys, BLUE, BF, BS, 1.9);
});

const pl = svg.append("g").attr("font-size",23).attr("fill","#444");
[["A",92,132],["B",92,411],["C",92,620],["D",93,885],["E",92,1171],["F",90,1413]].forEach(d=>pl.append("text").attr("x",d[1]).attr("y",d[2]).text(d[0]));

const tt = svg.append("g").attr("font-size",16.5).attr("fill","#555");
tt.append("text").attr("x",592).attr("y",28).attr("text-anchor","middle").text("Age (kyr BP)");
tt.append("text").attr("x",600).attr("y",1723).attr("text-anchor","middle").text("Age (kyr BP)");
function vtitle(x,y,parts){
  const t = svg.append("text").attr("transform",`translate(${x},${y}) rotate(-90)`).attr("text-anchor","middle")
    .attr("dominant-baseline","central").attr("font-size",18).attr("fill","#555");
  parts.forEach(p=>{
    const s = t.append("tspan").text(p[0]);
    if (p[1]==="sup") s.attr("baseline-shift","super").attr("font-size",10);
    if (p[1]==="sub") s.attr("baseline-shift","sub").attr("font-size",10);
    if (p[1]==="ov") s.attr("text-decoration","overline");
  });
}
vtitle(28,203,[["NGRIP  δ"],["18","sup"],["O (‰)"]]);
vtitle(1058,480,[["CaCO"],["3","sub"],[" (Wt%)"]]);
vtitle(23,702,[["Planktonic  δ"],["18","sup"],["O (‰)"]]);
vtitle(1062,1021,[["Benthic  δ"],["18","sup"],["O (‰)"]]);
vtitle(23,1277,[["SS","ov"],["  (µm)"]]);
vtitle(1060,1518,[["Benthic δ"],["13","sup"],["C (‰)"]]);

const lg = svg.append("g");
lg.append("rect").attr("x",811).attr("y",1572).attr("width",165).attr("height",57).attr("fill",BG).attr("stroke","#444").attr("stroke-width",1.2);
[[RED,legendNames[0],1591],[BLUE,legendNames[1],1612]].forEach(([c,n,y])=>{
  lg.append("line").attr("x1",822).attr("x2",849).attr("y1",y).attr("y2",y).attr("stroke",c).attr("stroke-width",2);
  lg.append("text").attr("x",852).attr("y",y+6).attr("font-size",16.5).attr("fill","#444").text(n);
});
</script></body></html>
